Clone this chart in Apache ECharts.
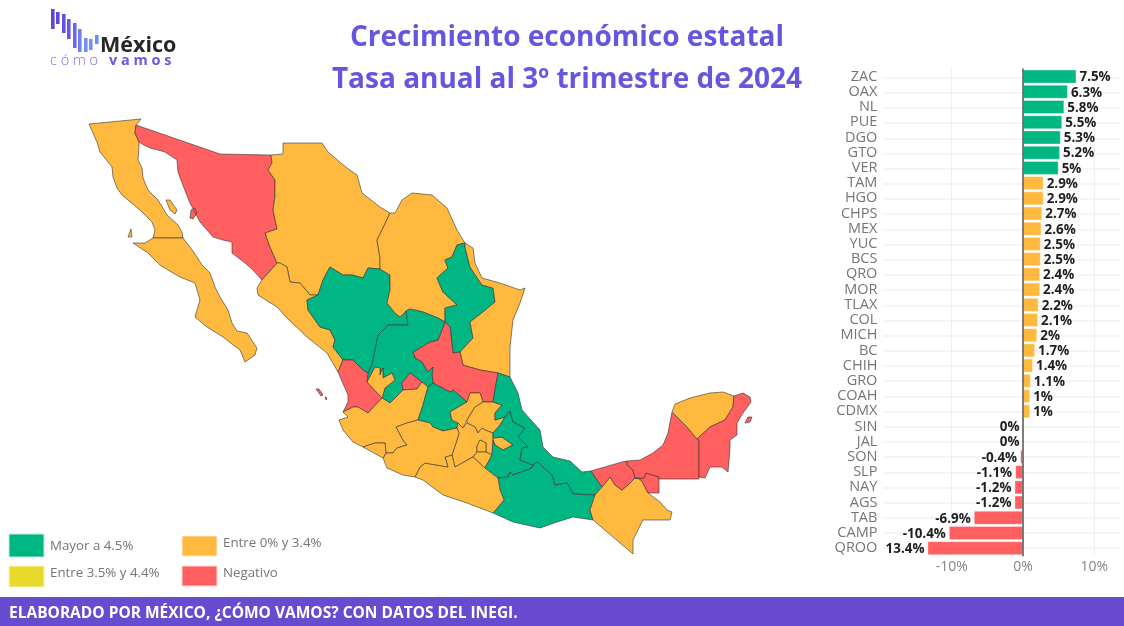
<!DOCTYPE html>
<html><head><meta charset="utf-8">
<style>html,body{margin:0;padding:0;background:#fff}#c{width:1124px;height:626px}</style>
<script src="https://cdn.jsdelivr.net/npm/echarts@6/dist/echarts.min.js"></script>
</head><body><div id="c"></div>
<script>
// ---------- data ----------
const categories = ['ZAC','OAX','NL','PUE','DGO','GTO','VER','TAM','HGO','CHPS','MEX','YUC','BCS','QRO','MOR','TLAX','COL','MICH','BC','CHIH','GRO','COAH','CDMX','SIN','JAL','SON','SLP','NAY','AGS','TAB','CAMP','QROO'];
const growth = [7.5,6.3,5.8,5.5,5.3,5.2,5,2.9,2.9,2.7,2.6,2.5,2.5,2.4,2.4,2.2,2.1,2,1.7,1.4,1.1,1,1,0,0,-0.4,-1.1,-1.2,-1.2,-6.9,-10.4,-13.4];
const barLabels = ['7.5%','6.3%','5.8%','5.5%','5.3%','5.2%','5%','2.9%','2.9%','2.7%','2.6%','2.5%','2.5%','2.4%','2.4%','2.2%','2.1%','2%','1.7%','1.4%','1.1%','1%','1%','0%','0%','-0.4%','-1.1%','-1.2%','-1.2%','-6.9%','-10.4%','13.4%'];
const legendLabels = ['Mayor a 4.5%','Entre 3.5% y 4.4%','Entre 0% y 3.4%','Negativo'];
const GREEN='#00B784', YELLOW='#E8DA2B', ORANGE='#FFB93F', RED='#FF5F5F', PURPLE='#684CCF';
const colorOf = v => v>=4.5?GREEN : v>=3.5?YELLOW : v>=0?ORANGE : RED;

// state outlines (map geometry)
const stateShapes = {
 BC:[[[89,124],[141,119],[136,125],[135,133],[139,142],[139,147],[138,160],[142,168],[143,178],[148,190],[158,200],[167,215],[178,225],[182,232],[183,238],[153,238],[155,230],[152,222],[140,210],[122,195],[117,188],[113,177],[112,167],[100,152],[97,142]],
     [[166,200],[170,200],[177,210],[175,214],[170,210]],[[128,237],[131,229],[132,237]]],
 BCS:[[[153,238],[183,238],[190,247],[197,257],[202,265],[210,273],[215,287],[220,297],[228,310],[232,323],[237,331],[247,333],[257,348],[255,355],[245,362],[240,350],[223,337],[207,327],[195,317],[200,300],[195,283],[180,277],[168,270],[160,265],[148,253],[133,243],[145,243]]],
 SON:[[[136,125],[220,154],[271,155],[272,163],[268,170],[275,180],[275,197],[273,210],[277,229],[265,233],[270,247],[277,263],[262,280],[253,270],[245,263],[232,253],[232,242],[223,240],[213,237],[200,222],[190,203],[184,188],[178,172],[177,160],[165,152],[158,150],[150,148],[142,144],[139,142],[135,133]],
     [[190,218],[191,210],[195,208],[197,213],[193,219]]],
 CHIH:[[[271,155],[283,154],[283,143],[322,143],[328,152],[347,168],[357,175],[362,193],[380,207],[390,213],[382,230],[377,240],[380,258],[380,269],[368,268],[363,278],[352,275],[343,275],[330,267],[323,280],[318,295],[310,295],[300,283],[290,282],[287,267],[280,263],[277,263],[270,247],[265,233],[277,229],[273,210],[275,197],[275,180],[268,170],[272,163]]],
 SIN:[[[262,280],[277,263],[280,263],[287,267],[290,282],[300,283],[310,295],[318,295],[307,300],[308,310],[320,327],[330,330],[335,340],[333,347],[343,360],[338,372],[327,353],[307,337],[287,318],[277,307],[258,295],[257,288]]],
 DGO:[[[307,300],[318,295],[323,280],[330,267],[343,275],[352,275],[363,278],[368,268],[380,269],[390,275],[390,290],[387,303],[395,313],[400,317],[406,311],[408,325],[388,325],[378,335],[375,350],[372,365],[368,373],[363,370],[353,360],[343,360],[333,347],[335,340],[330,330],[320,327],[308,310]]],
 COAH:[[[390,213],[395,213],[402,200],[412,193],[432,195],[447,208],[457,230],[465,243],[457,245],[452,257],[445,260],[448,268],[437,278],[443,292],[457,305],[445,308],[445,322],[438,318],[423,312],[410,309],[406,311],[400,317],[395,313],[387,303],[390,290],[390,275],[380,269],[380,258],[377,240],[382,230]]],
 NL:[[[465,243],[465,247],[470,267],[482,285],[493,288],[495,302],[483,312],[470,322],[473,338],[460,352],[453,353],[450,327],[445,322],[445,308],[457,305],[443,292],[437,278],[448,268],[445,260],[452,257],[457,245]]],
 TAM:[[[465,243],[473,248],[475,263],[482,278],[500,283],[520,290],[525,288],[520,303],[513,320],[510,347],[510,377],[498,373],[480,370],[463,365],[460,352],[473,338],[470,322],[483,312],[495,302],[493,288],[482,285],[470,267],[465,247]]],
 SLP:[[[445,322],[450,327],[453,353],[460,352],[463,365],[480,370],[498,373],[495,390],[493,402],[483,402],[480,393],[470,393],[467,402],[453,390],[450,392],[433,383],[432,375],[433,367],[428,372],[422,362],[415,358],[413,352],[430,342],[438,340]]],
 ZAC:[[[406,311],[410,309],[423,312],[438,318],[445,322],[438,340],[430,342],[413,352],[415,358],[422,362],[428,372],[433,367],[432,375],[433,383],[428,387],[422,382],[410,373],[402,383],[403,390],[390,403],[382,398],[385,388],[395,380],[392,373],[383,378],[383,368],[380,375],[380,368],[375,367],[367,382],[368,373],[372,365],[375,350],[378,335],[388,325],[408,325]]],
 AGS:[[[402,383],[410,373],[422,382],[417,389],[403,390]]],
 NAY:[[[343,360],[353,360],[363,370],[368,373],[367,382],[382,398],[368,413],[358,407],[353,407],[343,412],[348,402],[348,395],[338,372]],
      [[316,389],[319,389],[323,395],[321,396]],[[325,397],[327,398],[326,400]]],
 JAL:[[[339,420],[348,417],[343,412],[353,407],[358,407],[368,413],[382,398],[367,382],[375,367],[380,368],[380,375],[383,368],[383,378],[392,373],[395,380],[385,388],[382,398],[390,403],[403,390],[417,389],[422,382],[428,387],[423,405],[418,420],[407,423],[396,427],[403,440],[407,445],[397,448],[393,453],[386,453],[385,443],[375,443],[363,447],[353,442],[343,430]]],
 GTO:[[[428,387],[433,383],[450,392],[453,390],[467,402],[450,412],[452,420],[458,423],[457,428],[443,431],[433,427],[430,423],[418,420],[423,405]]],
 QRO:[[[450,412],[467,402],[470,393],[480,393],[483,402],[475,407],[467,420],[463,428],[458,423],[452,420]]],
 HGO:[[[483,402],[493,402],[502,405],[495,413],[495,420],[505,417],[500,425],[493,433],[485,430],[482,428],[478,433],[475,427],[467,423],[467,420],[475,407]]],
 MEX:[[[458,423],[463,428],[467,423],[475,427],[478,433],[482,428],[485,430],[493,433],[493,440],[492,455],[486,452],[486,443],[480,440],[477,446],[477,452],[473,457],[455,467],[452,455],[457,440],[459,433],[457,428]]],
 CDMX:[[[480,440],[486,443],[486,452],[477,452],[477,446]]],
 MOR:[[[477,452],[486,452],[492,455],[485,468],[473,457]]],
 TLAX:[[[493,438],[502,437],[513,445],[503,450],[495,445],[493,440]]],
 PUE:[[[505,417],[510,411],[513,422],[525,428],[518,437],[528,447],[522,448],[520,460],[533,465],[532,468],[513,475],[510,472],[508,477],[498,478],[485,468],[492,455],[493,440],[495,445],[503,450],[513,445],[502,437],[493,438],[493,433],[500,425]]],
 VER:[[[498,373],[510,377],[518,393],[522,410],[540,430],[543,447],[553,457],[570,461],[582,472],[591,471],[602,487],[595,495],[573,494],[567,483],[555,485],[552,475],[537,462],[533,465],[520,460],[522,448],[528,447],[518,437],[525,428],[513,422],[510,411],[505,417],[495,420],[495,413],[502,405],[493,402],[495,390]]],
 OAX:[[[498,478],[508,477],[510,472],[513,475],[532,468],[533,465],[537,462],[552,475],[555,485],[567,483],[573,494],[595,495],[590,510],[593,520],[573,517],[557,522],[540,528],[513,522],[493,513],[498,507],[504,500],[500,490]]],
 GRO:[[[415,477],[420,467],[425,463],[448,467],[445,457],[452,455],[455,467],[473,457],[485,468],[498,478],[500,490],[504,500],[498,507],[493,513],[467,503],[443,495],[423,480]]],
 MICH:[[[386,453],[393,453],[397,448],[407,445],[403,440],[396,427],[407,423],[418,420],[430,423],[433,427],[443,431],[457,428],[459,433],[457,440],[452,455],[445,457],[448,467],[425,463],[420,467],[415,477],[403,475],[387,468],[383,458]]],
 COL:[[[363,447],[375,443],[385,443],[386,453],[383,458]]],
 CHPS:[[[622,490],[630,483],[635,478],[640,479],[643,483],[648,493],[660,502],[667,510],[672,512],[670,520],[643,520],[633,540],[633,554],[613,537],[593,520],[590,510],[595,495],[602,487],[610,477],[615,485]]],
 TAB:[[[591,471],[622,462],[627,461],[627,465],[633,470],[635,478],[630,483],[622,490],[615,485],[610,477],[602,487]],
      [[635,478],[644,478],[646,473],[659,477],[659,493],[648,493],[643,483],[640,479]]],
 CAMP:[[[627,461],[640,460],[653,453],[663,445],[668,433],[671,417],[672,412],[680,420],[687,427],[697,439],[699,440],[699,479],[659,479],[659,477],[646,473],[644,478],[635,478],[633,470],[627,465]]],
 YUC:[[[672,412],[675,404],[690,398],[710,393],[723,392],[734,396],[733,407],[725,420],[710,427],[697,439],[687,427],[680,420]]],
 QROO:[[[734,396],[743,393],[750,397],[751,402],[743,413],[737,423],[737,435],[730,440],[730,448],[728,472],[722,467],[710,467],[705,478],[699,477],[699,440],[697,439],[710,427],[725,420],[733,407]],
       [[745,423],[748,417],[752,417],[750,422]]]
};
// ---------- map registration ----------
const features = Object.keys(stateShapes).map(name => ({
  type:'Feature', properties:{name},
  geometry:{type:'MultiPolygon', coordinates: stateShapes[name].map(r => [r.map(p => [p[0], -p[1]])])}
}));
echarts.registerMap('mexico', {type:'FeatureCollection', features});
const allPts = Object.values(stateShapes).flat(2);
const xs = allPts.map(p=>p[0]), ys = allPts.map(p=>p[1]);
const bx0=Math.min(...xs), bx1=Math.max(...xs), by0=Math.min(...ys), by1=Math.max(...ys);

// ---------- layout helpers ----------
const pxPerPct = 7.13, zeroX = 1023, rowH = 15.18, firstRow = 77.6;
const gridLeft = zeroX - 20*pxPerPct, gridW = 32*pxPerPct;
const FONT = '"Open Sans","Noto Sans",sans-serif';

const logoBars = [[51,9,29],[56,12,24],[62,14,33],[67,19,39],[73,23,48],[78,29,52],[84,38,52],[89,39,50],[95,35,44]];
const logoCols = ['#6147D9','#6147D9','#6350DE','#6658E0','#6A68E6','#6F7FEC','#7390F0','#7390F0','#6F8CEE'];
const graphic = [
  ...logoBars.map((b,i)=>({type:'rect',silent:true,shape:{x:b[0],y:b[1],width:3.6,height:b[2]-b[1]},style:{fill:logoCols[i]}})),
  {type:'text',silent:true,style:{x:100,y:46,text:'México',font:'bold 21.5px '+FONT,fill:'#26262B',verticalAlign:'middle'}},
  {type:'text',silent:true,style:{x:50,y:61,text:'c ó m o',font:'300 14.5px '+FONT,fill:'#7A6BE8',verticalAlign:'middle'}},
  {type:'text',silent:true,style:{x:109,y:61,text:'v a m o s',font:'bold 14.5px '+FONT,fill:'#6B57E0',verticalAlign:'middle'}},
  {type:'text',silent:true,style:{x:567,y:38,text:'Crecimiento económico estatal',font:'bold 28px '+FONT,fill:'#6655DF',align:'center',verticalAlign:'middle'}},
  {type:'text',silent:true,style:{x:567,y:80,text:'Tasa anual al 3º trimestre de 2024',font:'bold 28px '+FONT,fill:'#6655DF',align:'center',verticalAlign:'middle'}},
  {type:'rect',silent:true,shape:{x:9,y:534,width:35,height:23},style:{fill:GREEN,stroke:'#BFEDE0',lineWidth:1}},
  {type:'rect',silent:true,shape:{x:9,y:566,width:35,height:21},style:{fill:YELLOW,stroke:'#F8F3C0',lineWidth:1}},
  {type:'rect',silent:true,shape:{x:182,y:536,width:35,height:20},style:{fill:ORANGE,stroke:'#FFEBC8',lineWidth:1}},
  {type:'rect',silent:true,shape:{x:182,y:566,width:35,height:20},style:{fill:RED,stroke:'#FFD5D5',lineWidth:1}},
  {type:'text',silent:true,style:{x:50,y:546.5,text:legendLabels[0],font:'13.3px '+FONT,fill:'#757575',verticalAlign:'middle'}},
  {type:'text',silent:true,style:{x:50,y:573.5,text:legendLabels[1],font:'13.3px '+FONT,fill:'#757575',verticalAlign:'middle'}},
  {type:'text',silent:true,style:{x:223,y:543.5,text:legendLabels[2],font:'13.3px '+FONT,fill:'#757575',verticalAlign:'middle'}},
  {type:'text',silent:true,style:{x:223,y:573.5,text:legendLabels[3],font:'13.3px '+FONT,fill:'#757575',verticalAlign:'middle'}},
  {type:'rect',silent:true,shape:{x:0,y:597,width:1124,height:29},style:{fill:PURPLE}},
  {type:'text',silent:true,style:{x:9,y:613.5,text:'ELABORADO POR MÉXICO, ¿CÓMO VAMOS? CON DATOS DEL INEGI.',font:'bold 15.5px '+FONT,fill:'#fff',verticalAlign:'middle'}}
];

const option = {
  animation:false,
  backgroundColor:'#fff',
  graphic,
  grid:[
    {left:883, width:237, top:firstRow, height:rowH*31},
    {left:gridLeft, width:gridW, top:firstRow-rowH/2-1, height:rowH*32+1}
  ],
  xAxis:[
    {gridIndex:0, type:'value', min:0, max:1, show:false},
    {gridIndex:1, type:'value', min:-20, max:12, interval:10,
     axisLine:{show:false}, axisTick:{show:false},
     splitLine:{show:true, showMinLine:false, showMaxLine:false, lineStyle:{color:'#EFEFEF',width:1}},
     axisLabel:{showMinLabel:false, showMaxLabel:false, formatter:'{value}%', color:'#858585', fontFamily:FONT, fontSize:14, margin:4}}
  ],
  yAxis:[
    {gridIndex:0, type:'category', data:categories, inverse:true, boundaryGap:false,
     axisLine:{show:false}, axisTick:{show:false}, axisLabel:{show:false},
     splitLine:{show:true, interval:0, lineStyle:{color:'#F2F2F2',width:1.5}}},
    {gridIndex:1, type:'category', data:categories, inverse:true,
     axisLine:{show:true, onZero:true, lineStyle:{color:'#555',width:1.5}}, axisTick:{show:false},
     z:5,
     axisLabel:{interval:0, color:'#757575', fontFamily:FONT, fontSize:14.5, margin:3, padding:[2,0,0,0]}}
  ],
  series:[
    {type:'map', map:'mexico', aspectScale:1, silent:true, roam:false, selectedMode:false,
     left:bx0, top:by0, width:bx1-bx0, height:by1-by0,
     label:{show:false}, emphasis:{disabled:true},
     itemStyle:{borderColor:'rgba(50,50,50,0.75)', borderWidth:0.8},
     data:categories.map((c,i)=>({name:c, value:growth[i], itemStyle:{areaColor:colorOf(growth[i])}}))},
    {type:'bar', xAxisIndex:1, yAxisIndex:1, barWidth:14, silent:true,
     data:growth.map((v,i)=>({value:v,
       itemStyle:{color:colorOf(v), borderColor:'rgba(255,255,255,0.35)', borderWidth:1},
       label:{show:true, position:v>0?'right':'left', distance:3, offset:[0,1], formatter:barLabels[i],
              color:'#1E1E1E', fontFamily:FONT, fontWeight:'bold', fontSize:13.4}}))}
  ]
};
const chart = echarts.init(document.getElementById('c'), null, {renderer:'canvas'});
chart.setOption(option);
</script></body></html>
